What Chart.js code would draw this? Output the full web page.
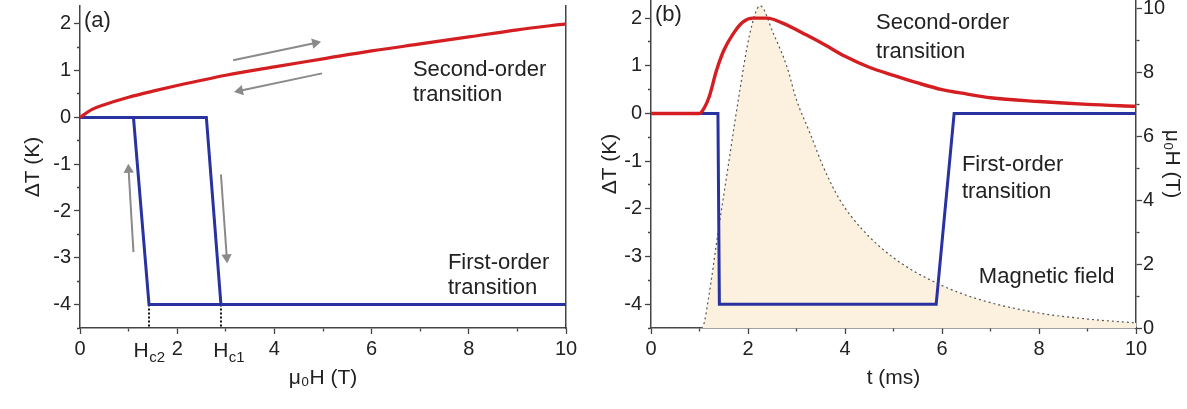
<!DOCTYPE html>
<html>
<head>
<meta charset="utf-8">
<script src="https://cdn.jsdelivr.net/npm/chart.js@4.4.1/dist/chart.umd.min.js"></script>
<style>
    body { margin: 0; background: #fff; }
    #wrap { position: relative; width: 1187px; height: 409px; overflow: hidden; }
    .panel { position: absolute; top: 0; }
</style>
</head>
<body>
<div id="wrap">
    <canvas id="chartA" class="panel" style="left:0" width="595" height="409"></canvas>
    <canvas id="chartB" class="panel" style="left:595px" width="592" height="409"></canvas>
</div>
<script>
// ---- panel (a): temperature change vs. applied field ----
const fieldH = [0, 0.25, 0.5, 1, 1.5, 2, 3, 4, 5, 6, 7, 8, 9, 10];
const secondOrderA = [0, 0.17, 0.27, 0.43, 0.56, 0.68, 0.9, 1.08, 1.25, 1.42, 1.57, 1.72, 1.87, 2.0];
const firstOrderUpH = [0, 2.6, 2.9, 10];
const firstOrderUpT = [0, 0, -4, -4];
const firstOrderDownH = [1.1, 1.42, 2.9];
const firstOrderDownT = [0, -4, -4];
const criticalH = [1.42, 2.9];           // Hc2, Hc1
const arrowStartsA = [[3.15, 1.22], [4.98, 0.94], [1.1, -2.88], [2.9, -1.22]];
const arrowEndsA = [[4.84, 1.59], [3.29, 0.57], [1.0, -1.12], [3.02, -2.99]];

// ---- panel (b): temperature change vs. time during a field pulse ----
const timeRed = [0, 1.0, 1.1, 1.2, 1.35, 1.5, 1.7, 1.9, 2.1, 2.4, 2.7, 3.2, 3.6, 4.0, 4.5, 5.0, 5.5, 6.0, 6.5, 7.0, 8.0, 9.0, 10];
const secondOrderB = [0, 0, 0.12, 0.35, 0.9, 1.32, 1.68, 1.92, 2.0, 2.0, 1.9, 1.65, 1.43, 1.2, 0.97, 0.8, 0.64, 0.5, 0.41, 0.33, 0.25, 0.19, 0.15];
const timeBlue = [0, 1.38, 1.41, 5.88, 6.25, 10];
const firstOrderB = [0, 0, -4, -4, 0, 0];
const timeField = [0, 1.0, 1.07, 1.18, 1.38, 1.59, 1.8, 2.04, 2.25, 2.52, 2.8, 3.0, 3.28, 3.55, 3.9, 4.35, 5.0, 5.9, 6.8, 8.0, 9.0, 10];
const pulseField = [0, 0, 0.05, 0.88, 2.97, 5.06, 7.15, 9.24, 10.1, 9.24, 8.2, 7.15, 6.1, 5.06, 4.0, 3.1, 2.2, 1.4, 0.88, 0.47, 0.28, 0.16];

// tick labels
const xTickLabels = [0, 2, 4, 6, 8, 10];
const yTickLabels = [-4, -3, -2, -1, 0, 1, 2];
const fieldTickLabels = [0, 2, 4, 6, 8, 10];

const FONT = '"Liberation Sans", Arial, sans-serif';
Chart.defaults.font.family = FONT;
Chart.defaults.color = '#222';

const RED = 'rgb(212, 30, 34)';
const BLUE = 'rgb(40, 50, 160)';
const GREY = '#8a8a8a';
const AXIS = '#444';
const TICK_SIZE = 20;
const TITLE_SIZE = 21;
const NOTE_SIZE = 22;

function pts(xs, ys) {
    return xs.map((x, i) => ({ x: x, y: ys[i] }));
}

function makeAxis(labels, minorStep, side) {
    const isMajor = ctx => ctx.tick && labels.includes(ctx.tick.value);
    return {
        // one tick per minor step, labelled only on the major values
        afterBuildTicks: s => {
            const out = [];
            for (let k = Math.ceil(s.min / minorStep - 1e-9); k * minorStep <= s.max + 1e-9; k++) {
                out.push({ value: +(k * minorStep).toFixed(4) });
            }
            s.ticks = out;
        },
        ticks: {
            autoSkip: false,
            maxRotation: 0,
            font: { size: TICK_SIZE },
            color: '#222',
            callback: v => labels.includes(v) ? String(v) : ''
        },
        grid: {
            drawOnChartArea: false,
            drawTicks: true,
            tickLength: 6,
            tickWidth: 1.3,
            tickColor: AXIS,
            // minor ticks only half as long, kept next to the axis line
            tickBorderDash: ctx => isMajor(ctx) ? [] : [3, 3],
            tickBorderDashOffset: ctx => (!isMajor(ctx) && side === 'left') ? 3 : 0
        },
        border: { color: AXIS, width: 1.5 }
    };
}

function arrowAngle(ctx) {
    const d = ctx.dataset.data;
    const sx = ctx.chart.scales.x, sy = ctx.chart.scales.y;
    const dx = sx.getPixelForValue(d[1].x) - sx.getPixelForValue(d[0].x);
    const dy = sy.getPixelForValue(d[1].y) - sy.getPixelForValue(d[0].y);
    return Math.atan2(dx, -dy) * 180 / Math.PI;
}

// text labels placed inside / under the plot
const notesPlugin = {
    id: 'notes',
    afterDatasetsDraw(chart, args, opts) {
        const { ctx, scales, chartArea } = chart;
        ctx.save();
        ctx.fillStyle = '#222';
        ctx.textBaseline = 'alphabetic';
        for (const n of opts.items || []) {
            const px = scales.x.getPixelForValue(n.x);
            const py = n.below !== undefined ? chartArea.bottom + n.below : scales.y.getPixelForValue(n.y);
            ctx.font = (n.size || NOTE_SIZE) + 'px ' + FONT;
            ctx.fillText(n.text, px, py);
            if (n.sub) {
                const w = ctx.measureText(n.text).width;
                ctx.font = '15px ' + FONT;
                ctx.fillText(n.sub, px + w + 0.5, py + 5);
            }
        }
        ctx.restore();
    }
};

const datasetsA = [
    {
        data: pts(fieldH, secondOrderA),
        borderColor: RED, borderWidth: 3.2,
        cubicInterpolationMode: 'monotone', pointRadius: 0
    },
    {
        data: pts(firstOrderUpH, firstOrderUpT),
        borderColor: BLUE, borderWidth: 3, pointRadius: 0, borderJoinStyle: 'miter'
    },
    {
        data: pts(firstOrderDownH, firstOrderDownT),
        borderColor: BLUE, borderWidth: 3, pointRadius: 0, borderJoinStyle: 'miter'
    }
];
criticalH.forEach(h => {
    datasetsA.push({
        data: [{ x: h, y: -4 }, { x: h, y: -4.5 }],
        borderColor: '#111', borderWidth: 2, borderDash: [2, 2], pointRadius: 0
    });
});
arrowStartsA.forEach((s, i) => {
    const e = arrowEndsA[i];
    datasetsA.push({
        data: [{ x: s[0], y: s[1] }, { x: e[0], y: e[1] }],
        borderColor: GREY, borderWidth: 2,
        backgroundColor: GREY, pointBorderWidth: 0,
        pointStyle: 'triangle', pointRadius: [0, 6],
        pointRotation: arrowAngle
    });
});

const xA = makeAxis(xTickLabels, 1, 'bottom');
Object.assign(xA, {
    type: 'linear', position: 'bottom', min: 0, max: 10,
    title: { display: true, text: 'μ₀H (T)', font: { size: TITLE_SIZE }, color: '#222', padding: { top: 0, bottom: 18 } },
    afterFit: s => { s.height = 81; s.paddingLeft = 0; s.paddingRight = 0; }
});
xA.ticks.padding = 3;
const yA = makeAxis(yTickLabels, 0.5, 'left');
Object.assign(yA, {
    type: 'linear', position: 'left', min: -4.5, max: 2.38,
    title: { display: true, text: 'ΔT (K)', font: { size: TITLE_SIZE }, color: '#222', padding: { top: 21, bottom: 0 } },
    afterFit: s => { s.width = 80; s.paddingTop = 0; s.paddingBottom = 0; }
});
yA.ticks.padding = 3;

new Chart(document.getElementById('chartA'), {
    type: 'line',
    data: { datasets: datasetsA },
    options: {
        responsive: false,
        animation: false,
        events: [],
        layout: { padding: { left: 0, right: 29, top: 0, bottom: 0 } },
        scales: {
            x: xA,
            y: yA,
            frame: {
                type: 'linear', position: 'right', min: -4.5, max: 2.38,
                ticks: { display: false },
                grid: { display: false, drawTicks: false },
                border: { color: AXIS, width: 1.5 },
                afterFit: s => { s.width = 0; s.paddingTop = 0; s.paddingBottom = 0; }
            }
        },
        plugins: {
            legend: { display: false },
            tooltip: { enabled: false },
            notes: {
                items: [
                    { text: '(a)', x: 0.08, y: 1.93 },
                    { text: 'Second-order', x: 6.85, y: 0.88 },
                    { text: 'transition', x: 6.85, y: 0.34 },
                    { text: 'First-order', x: 7.57, y: -3.23 },
                    { text: 'transition', x: 7.57, y: -3.78 },
                    { text: 'H', sub: 'c2', x: 1.1, below: 29, size: TICK_SIZE + 1 },
                    { text: 'H', sub: 'c1', x: 2.74, below: 29, size: TICK_SIZE + 1 }
                ]
            }
        }
    },
    plugins: [notesPlugin]
});

const xB = makeAxis(xTickLabels, 1, 'bottom');
Object.assign(xB, {
    type: 'linear', position: 'bottom', min: 0, max: 10,
    title: { display: true, text: 't (ms)', font: { size: TITLE_SIZE }, color: '#222', padding: { top: 0, bottom: 18 } },
    afterFit: s => { s.height = 81; s.paddingLeft = 0; s.paddingRight = 0; }
});
xB.ticks.padding = 3;
const yB = makeAxis(yTickLabels, 0.5, 'left');
Object.assign(yB, {
    type: 'linear', position: 'left', min: -4.5, max: 2.38,
    title: { display: true, text: 'ΔT (K)', font: { size: TITLE_SIZE }, color: '#222', padding: { top: 3, bottom: 0 } },
    afterFit: s => { s.width = 56; s.paddingTop = 0; s.paddingBottom = 0; }
});
yB.ticks.padding = 3;
const yR = makeAxis(fieldTickLabels, 1, 'right');
Object.assign(yR, {
    type: 'linear', position: 'right', min: 0, max: 10.28,
    title: { display: true, text: 'μ₀H (T)', font: { size: TITLE_SIZE }, color: '#222', padding: { top: 3, bottom: 0 } },
    afterFit: s => { s.width = 51; s.paddingTop = 0; s.paddingBottom = 0; }
});
yR.ticks.padding = 1;

new Chart(document.getElementById('chartB'), {
    type: 'line',
    data: {
        datasets: [
            {
                data: pts(timeRed, secondOrderB),
                borderColor: RED, borderWidth: 3.4,
                cubicInterpolationMode: 'monotone', pointRadius: 0
            },
            {
                data: pts(timeBlue, firstOrderB),
                borderColor: BLUE, borderWidth: 3, pointRadius: 0, borderJoinStyle: 'miter'
            },
            {
                data: pts(timeField, pulseField),
                yAxisID: 'yR',
                borderColor: '#555', borderWidth: 1.2, borderDash: [2, 3],
                backgroundColor: 'rgb(251, 241, 222)',
                fill: 'origin',
                cubicInterpolationMode: 'monotone', pointRadius: 0
            }
        ]
    },
    options: {
        responsive: false,
        animation: false,
        events: [],
        layout: { padding: 0 },
        scales: { x: xB, y: yB, yR: yR },
        plugins: {
            legend: { display: false },
            tooltip: { enabled: false },
            notes: {
                items: [
                    { text: '(b)', x: 0.08, y: 1.93 },
                    { text: 'Second-order', x: 4.64, y: 1.78 },
                    { text: 'transition', x: 4.64, y: 1.17 },
                    { text: 'First-order', x: 6.41, y: -1.2 },
                    { text: 'transition', x: 6.41, y: -1.78 },
                    { text: 'Magnetic field', x: 6.76, y: -3.55 }
                ]
            }
        }
    },
    plugins: [notesPlugin]
});
</script>
</body>
</html>
